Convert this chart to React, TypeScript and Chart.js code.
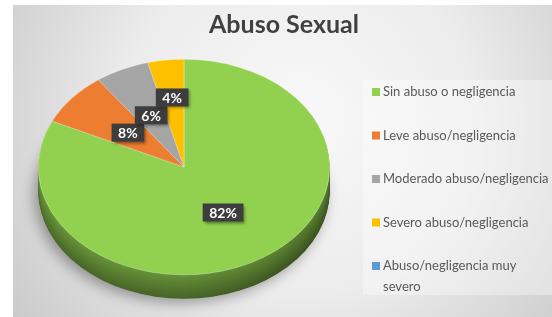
import React, { useEffect, useRef } from "react";
import { Chart, registerables } from "chart.js";

Chart.register(...registerables);

const TITLE = "Abuso Sexual";
const categories = [
  "Sin abuso o negligencia",
  "Leve abuso/negligencia",
  "Moderado abuso/negligencia",
  "Severo abuso/negligencia",
  "Abuso/negligencia muy severo",
];
const values = [82, 8, 6, 4, 0];
const colors = ["#92D050", "#ED7D31", "#A5A5A5", "#FFC000", "#5B9BD5"];

const W = 552;
const H = 317;
const CY = 167; // on-screen centre of the pie's top face
const K = 0.74; // vertical squash of the tilted pie
const DEPTH = 24;

function hexToRgb(h: string) {
  const n = parseInt(h.slice(1), 16);
  return [(n >> 16) & 255, (n >> 8) & 255, n & 255];
}
function shade(h: string, f: number) {
  const [r, g, b] = hexToRgb(h);
  return `rgb(${Math.round(r * f)},${Math.round(g * f)},${Math.round(b * f)})`;
}

function applyTilt(ctx: CanvasRenderingContext2D, x: number, y: number) {
  ctx.translate(x, CY);
  ctx.scale(1, K);
  ctx.translate(-x, -y);
}

const pie3d = {
  id: "pie3d",
  beforeDraw(chart: any) {
    const ctx = chart.ctx as CanvasRenderingContext2D;
    ctx.save();
    ctx.fillStyle = "#ffffff";
    ctx.fillRect(0, 0, W, H);
    const g = ctx.createRadialGradient(300, 120, 10, 300, 120, 380);
    g.addColorStop(0, "#f8f8f8");
    g.addColorStop(0.45, "#ececec");
    g.addColorStop(1, "#c4c4c4");
    ctx.fillStyle = g;
    ctx.fillRect(13, 5, W - 13, H - 5);
    ctx.fillStyle = "rgba(255,255,255,0.35)";
    ctx.fillRect(363, 80, W - 363, 215);
    ctx.restore();
  },
  beforeDatasetsDraw(chart: any) {
    const ctx = chart.ctx as CanvasRenderingContext2D;
    const meta = chart.getDatasetMeta(0);
    const a0 = meta.data[0];
    const x = a0.x, y = a0.y, R = a0.outerRadius;
    for (let d = DEPTH; d >= 1; d--) {
      ctx.save();
      if (d === DEPTH) {
        ctx.shadowColor = "rgba(0,0,0,0.35)";
        ctx.shadowBlur = 14;
        ctx.shadowOffsetX = -4;
        ctx.shadowOffsetY = 4;
      }
      ctx.translate(0, d);
      applyTilt(ctx, x, y);
      const t = d / DEPTH;
      meta.data.forEach((arc: any, i: number) => {
        if (!values[i]) return;
        const gr = ctx.createLinearGradient(x - R, 0, x + R, 0);
        const base = 0.7 - 0.22 * t;
        gr.addColorStop(0, shade(colors[i], base + 0.02));
        gr.addColorStop(0.5, shade(colors[i], base));
        gr.addColorStop(1, shade(colors[i], base - 0.1));
        ctx.beginPath();
        ctx.moveTo(x, y);
        ctx.arc(x, y, R, arc.startAngle, arc.endAngle);
        ctx.closePath();
        ctx.fillStyle = gr;
        ctx.fill();
      });
      ctx.restore();
    }
    ctx.save();
    applyTilt(ctx, x, y);
  },
  afterDatasetsDraw(chart: any) {
    const ctx = chart.ctx as CanvasRenderingContext2D;
    ctx.restore();
    const meta = chart.getDatasetMeta(0);
    const total = values.reduce((s, v) => s + v, 0);
    const labels: { X: number; Y: number; w: number; text: string }[] = [];
    ctx.save();
    ctx.font = "bold 14px Lato";
    for (let i = 0; i < meta.data.length; i++) {
      if (!values[i]) continue;
      const arc = meta.data[i];
      const mid = (arc.startAngle + arc.endAngle) / 2;
      const text = Math.round((values[i] / total) * 100) + "%";
      const w = ctx.measureText(text).width + 13;
      let frac = 0.5;
      let X = 0, Y = 0;
      for (let step = 0; step < 60; step++) {
        X = arc.x + Math.cos(mid) * arc.outerRadius * frac;
        Y = CY + Math.sin(mid) * arc.outerRadius * frac * K;
        const hit = labels.some(
          (p) => Math.abs(p.X - X) < (p.w + w) / 2 - 4 && Math.abs(p.Y - Y) < 17
        );
        if (!hit) break;
        frac += 0.01;
      }
      labels.push({ X, Y, w, text });
    }
    for (const l of labels) {
      ctx.save();
      ctx.shadowColor = "rgba(0,0,0,0.45)";
      ctx.shadowBlur = 3;
      ctx.shadowOffsetX = 2;
      ctx.shadowOffsetY = 2;
      ctx.fillStyle = "#3d3d3d";
      ctx.fillRect(l.X - l.w / 2, l.Y - 9, l.w, 18);
      ctx.restore();
      ctx.fillStyle = "#ffffff";
      ctx.textAlign = "center";
      ctx.textBaseline = "middle";
      ctx.fillText(l.text, l.X, l.Y + 1);
    }
    ctx.restore();
  },
  afterDraw(chart: any) {
    const ctx = chart.ctx as CanvasRenderingContext2D;
    ctx.save();
    ctx.font = "bold 25px Lato";
    ctx.fillStyle = "#404040";
    ctx.textAlign = "center";
    ctx.textBaseline = "alphabetic";
    ctx.fillText(TITLE, 284, 33);
    ctx.font = "13px Lato";
    ctx.textAlign = "left";
    ctx.textBaseline = "middle";
    const maxW = 172;
    let yy = 92;
    categories.forEach((c, i) => {
      const words = c.split(" ");
      const lines: string[] = [];
      let cur = "";
      for (const wd of words) {
        const test = cur ? cur + " " + wd : wd;
        if (ctx.measureText(test).width > maxW && cur) {
          lines.push(cur);
          cur = wd;
        } else cur = test;
      }
      if (cur) lines.push(cur);
      ctx.fillStyle = colors[i];
      ctx.fillRect(372, yy - 4, 8, 8);
      ctx.fillStyle = "#595959";
      lines.forEach((ln, k) => ctx.fillText(ln, 383, yy + k * 21));
      yy += 43.5;
    });
    ctx.restore();
  },
};

export default function App() {
  const ref = useRef<HTMLCanvasElement | null>(null);
  useEffect(() => {
    if (!ref.current) return;
    const chart = new Chart(ref.current, {
      type: "pie",
      data: {
        labels: categories,
        datasets: [
          {
            data: values,
            backgroundColor: colors,
            borderColor: "rgba(255,255,255,0.6)",
            borderWidth: 0.6,
            clip: false as any,
          },
        ],
      },
      options: {
        responsive: false,
        animation: false,
        devicePixelRatio: 1,
        layout: { padding: { left: 38, right: 222, top: 10, bottom: 15 } },
        plugins: {
          legend: { display: false },
          tooltip: { enabled: false },
          title: { display: false },
        },
      },
      plugins: [pie3d as any],
    });
    return () => chart.destroy();
  }, []);
  return (
    <div style={{ position: "fixed", left: 0, top: 0, width: W, height: H }}>
      <canvas ref={ref} width={W} height={H} style={{ width: W, height: H, display: "block" }} />
    </div>
  );
}
